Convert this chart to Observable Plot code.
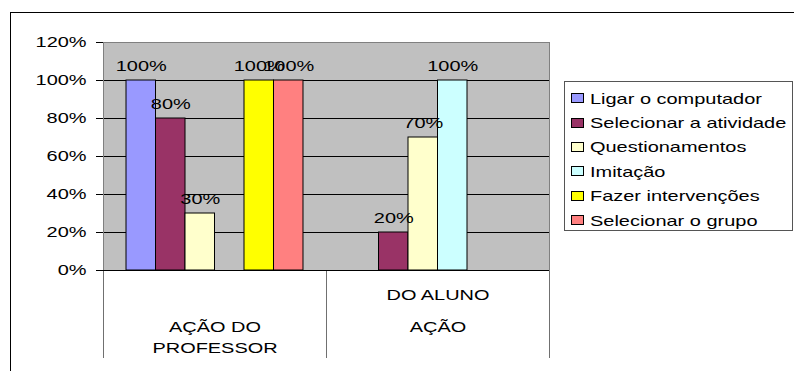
<!DOCTYPE html>
<html>
<head>
<meta charset="utf-8">
<script src="https://cdn.jsdelivr.net/npm/d3@7"></script>
<script src="https://cdn.jsdelivr.net/npm/@observablehq/plot@0.6"></script>
<style>
  body { margin: 0; background: #fff; }
  #chart { position: relative; width: 794px; height: 371px; overflow: hidden; font-family: "Liberation Sans", Arial, sans-serif; color: #000; }
  #chart svg { position: absolute; left: 0; top: 0; }
  .border { position: absolute; left: 10px; top: 12px; right: 0; bottom: 0; border-top: 1px solid #000; border-left: 1px solid #000; }
  .legend { position: absolute; left: 564px; top: 81px; width: 229px; height: 150px; box-sizing: border-box; border: 1px solid #555; padding: 4px 0 0 6px; background: #fff; }
  .legend .row { height: 24.4px; display: flex; align-items: center; }
  .legend .sw { width: 13px; height: 10px; box-sizing: border-box; border: 1px solid #000; margin-right: 6px; flex: none; }
  .legend .lb { font-size: 15px; display: inline-block; transform: scaleX(1.33); transform-origin: left center; white-space: nowrap; flex: none; }
  #chart svg [aria-label="x-axis tick"] { stroke: #707070; }
</style>
</head>
<body>
<div id="chart"><div class="border"></div></div>
<script>
// Categories (two groups of actions) and the six activities
const groups = ["AÇÃO DO PROFESSOR", "AÇÃO DO ALUNO"];
const groupLines = [["AÇÃO DO", "PROFESSOR"], ["DO ALUNO", "AÇÃO"]];
const series = [
  "Ligar o computador",
  "Selecionar a atividade",
  "Questionamentos",
  "Imitação",
  "Fazer intervenções",
  "Selecionar o grupo"
];
const seriesColors = ["#9999ff", "#993366", "#ffffcc", "#ccffff", "#ffff00", "#ff8080"];

// Shares per activity, in series order
const professorValues = [1.0, 0.8, 0.3, 0, 1.0, 1.0];
const alunoValues = [0, 0.2, 0.7, 1.0, 0, 0];

// Value axis ticks
const yTicks = [0, 0.2, 0.4, 0.6, 0.8, 1.0, 1.2];

const valuesByGroup = [professorValues, alunoValues];
const data = groups.flatMap((group, gi) =>
  series.map((s, si) => ({group, series: s, value: valuesByGroup[gi][si]}))
);

const pct = d3.format(".0%");
const layout = {width: 794, height: 371, marginLeft: 103, marginRight: 245, marginTop: 42, marginBottom: 101};
const style = {background: "transparent", fontSize: "15px", fontFamily: "'Liberation Sans', Arial, sans-serif", color: "#000", overflow: "visible"};
const stretch = 1.33;

// Text in this chart is drawn wide: scale each label horizontally about its anchor
function widen(svg) {
  svg.querySelectorAll("text").forEach((t) => {
    const tr = t.getAttribute("transform");
    if (tr) {
      t.setAttribute("transform", `${tr} scale(${stretch},1)`);
    } else {
      const x = t.getAttribute("x") || 0, y = t.getAttribute("y") || 0;
      t.removeAttribute("x");
      t.removeAttribute("y");
      t.setAttribute("transform", `translate(${x},${y}) scale(${stretch},1)`);
    }
  });
  return svg;
}

// Plot area: grey panel, gridlines, value axis and category separators
const base = Plot.plot({
  ...layout,
  style,
  x: {type: "linear", domain: [0, groups.length], ticks: d3.range(groups.length + 1), tickSize: 88, tickFormat: () => "", label: null},
  y: {domain: [0, 1.2], ticks: yTicks, tickSize: 7, tickPadding: 10, tickFormat: pct, label: null},
  marks: [
    Plot.frame({fill: "#c0c0c0", stroke: "none"}),
    Plot.ruleY(yTicks.slice(0, -1), {stroke: "#000"}),
    Plot.ruleY(yTicks.slice(-1), {stroke: "#808080"}),
    Plot.ruleX([0, groups.length], {y1: 0, y2: 1.2, stroke: "#808080"})
  ]
});

// Bars, value labels and category labels, faceted by group
const lineOffsets = [[57, 78], [25, 57]];
const bars = Plot.plot({
  ...layout,
  style,
  fx: {domain: groups, padding: 0, round: false, axis: null},
  x: {domain: series, paddingInner: 0, paddingOuter: 0.78, round: false, axis: null},
  y: {domain: [0, 1.2], axis: null},
  color: {domain: series, range: seriesColors},
  marks: [
    Plot.barY(data, {fx: "group", x: "series", y: "value", fill: "series", stroke: "#000", strokeWidth: 1, filter: (d) => d.value > 0}),
    Plot.text(data, {fx: "group", x: "series", y: "value", text: (d) => pct(d.value), dy: -14, lineAnchor: "middle", fill: "#000", filter: (d) => d.value > 0}),
    ...groups.flatMap((g, gi) =>
      groupLines[gi].map((line, li) =>
        Plot.text([g], {fx: (d) => d, frameAnchor: "bottom", text: () => line, dy: lineOffsets[gi][li], lineAnchor: "middle", fill: "#000"})
      )
    )
  ]
});

const chart = document.getElementById("chart");
chart.appendChild(widen(base));
chart.appendChild(widen(bars));

// Legend box to the right of the plot area
const legend = document.createElement("div");
legend.className = "legend";
series.forEach((s, i) => {
  const row = document.createElement("div");
  row.className = "row";
  const sw = document.createElement("span");
  sw.className = "sw";
  sw.style.background = seriesColors[i];
  const lb = document.createElement("span");
  lb.className = "lb";
  lb.textContent = s;
  row.append(sw, lb);
  legend.appendChild(row);
});
chart.appendChild(legend);
</script>
</body>
</html>
